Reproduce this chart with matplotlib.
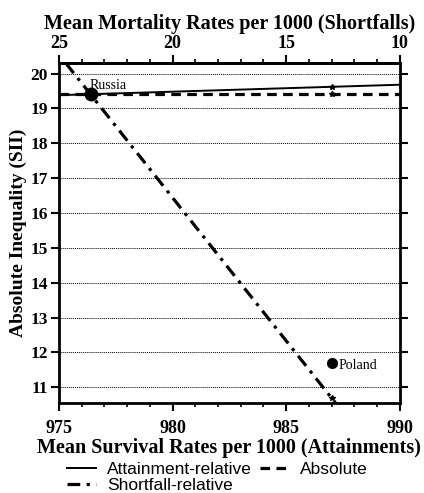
import numpy as np
import matplotlib.pyplot as plt
from matplotlib.ticker import MultipleLocator

# survival rate (attainment) on x, SII on y
attain_x = [975.0, 990.0]
attain_y = [19.38, 19.68]
absolute_x = [975.0, 990.0]
absolute_y = [19.4, 19.4]
short_x = [975.3, 987.17]
short_y = [20.3, 10.55]

# star marks at Poland's survival rate
star_x = [987.0, 987.0, 987.0]
star_y = [19.61, 19.4, 10.69]

countries = ["Russia", "Poland"]
country_x = [976.4, 987.0]
country_y = [19.4, 11.7]

serif = "Liberation Serif"

fig = plt.figure(figsize=(4.24, 4.93), dpi=100)
ax = fig.add_axes([0.139, 0.1826, 0.804, 0.6894])

l1, = ax.plot(attain_x, attain_y, color="black", lw=1.4, ls="-")
l2, = ax.plot(absolute_x, absolute_y, color="black", lw=2.3, ls=(0, (3, 2)))
l3, = ax.plot(short_x, short_y, color="black", lw=2.3, ls=(0, (4, 2, 1, 2)))
ax.plot(star_x, star_y, ls="none", marker="*", color="black", ms=4)

ax.plot(country_x[0], country_y[0], "o", color="black", ms=9)
ax.plot(country_x[1], country_y[1], "o", color="black", ms=7)
ax.text(country_x[0] - 0.05, 19.55, countries[0], family=serif, fontsize=10, va="baseline")
ax.text(country_x[1] + 0.3, country_y[1] - 0.08, countries[1], family=serif, fontsize=10, va="center")

ax.set_xlim(975, 990)
ax.set_ylim(10.55, 20.3)
ax.xaxis.set_major_locator(MultipleLocator(5))
ax.xaxis.set_minor_locator(MultipleLocator(1))
ax.yaxis.set_major_locator(MultipleLocator(1))
ax.yaxis.set_minor_locator(MultipleLocator(1))
ax.grid(axis="y", which="major", ls=(0, (1, 1)), color="black", lw=0.7)

ax.tick_params(axis="y", which="major", direction="out", right=True, length=6, width=1.5, labelsize=12.5, pad=2)
ax.tick_params(axis="x", which="major", direction="out", length=6, width=1.5, labelsize=13, pad=6)
ax.tick_params(axis="x", which="minor", direction="out", length=3, width=1.2)
for lbl in ax.get_xticklabels() + ax.get_yticklabels():
    lbl.set_family(serif)
    lbl.set_fontweight("bold")
for s in ax.spines.values():
    s.set_linewidth(2)

top = ax.secondary_xaxis("top", functions=(lambda x: 1000 - x, lambda m: 1000 - m))
top.set_xticks([25, 20, 15, 10])
top.xaxis.set_minor_locator(MultipleLocator(1))
top.tick_params(axis="x", which="major", direction="out", length=6, width=1.5, labelsize=13, pad=2)
top.tick_params(axis="x", which="minor", direction="out", length=3, width=1.2)
top.spines["top"].set_linewidth(2)
for lbl in top.get_xticklabels():
    lbl.set_family(serif)
    lbl.set_fontweight("bold")
top.set_xlabel("Mean Mortality Rates per 1000 (Shortfalls)", family=serif,
               fontweight="bold", fontsize=14.5, labelpad=4)

ax.set_xlabel("Mean Survival Rates per 1000 (Attainments)", family=serif,
              fontweight="bold", fontsize=14.5, labelpad=1)
ax.set_ylabel("Absolute Inequality (SII)", family=serif, fontweight="bold",
              fontsize=14, labelpad=2)

fig.legend([l1, l3, l2], ["Attainment-relative", "Shortfall-relative", "Absolute"],
           ncol=2, loc="upper left", bbox_to_anchor=(0.137, 0.08), frameon=False,
           prop={"family": "Liberation Sans", "size": 12.5}, handlelength=1.7,
           handletextpad=0.6, columnspacing=0.5, labelspacing=0.05, borderpad=0)

fig.savefig("out.png", dpi=100)
